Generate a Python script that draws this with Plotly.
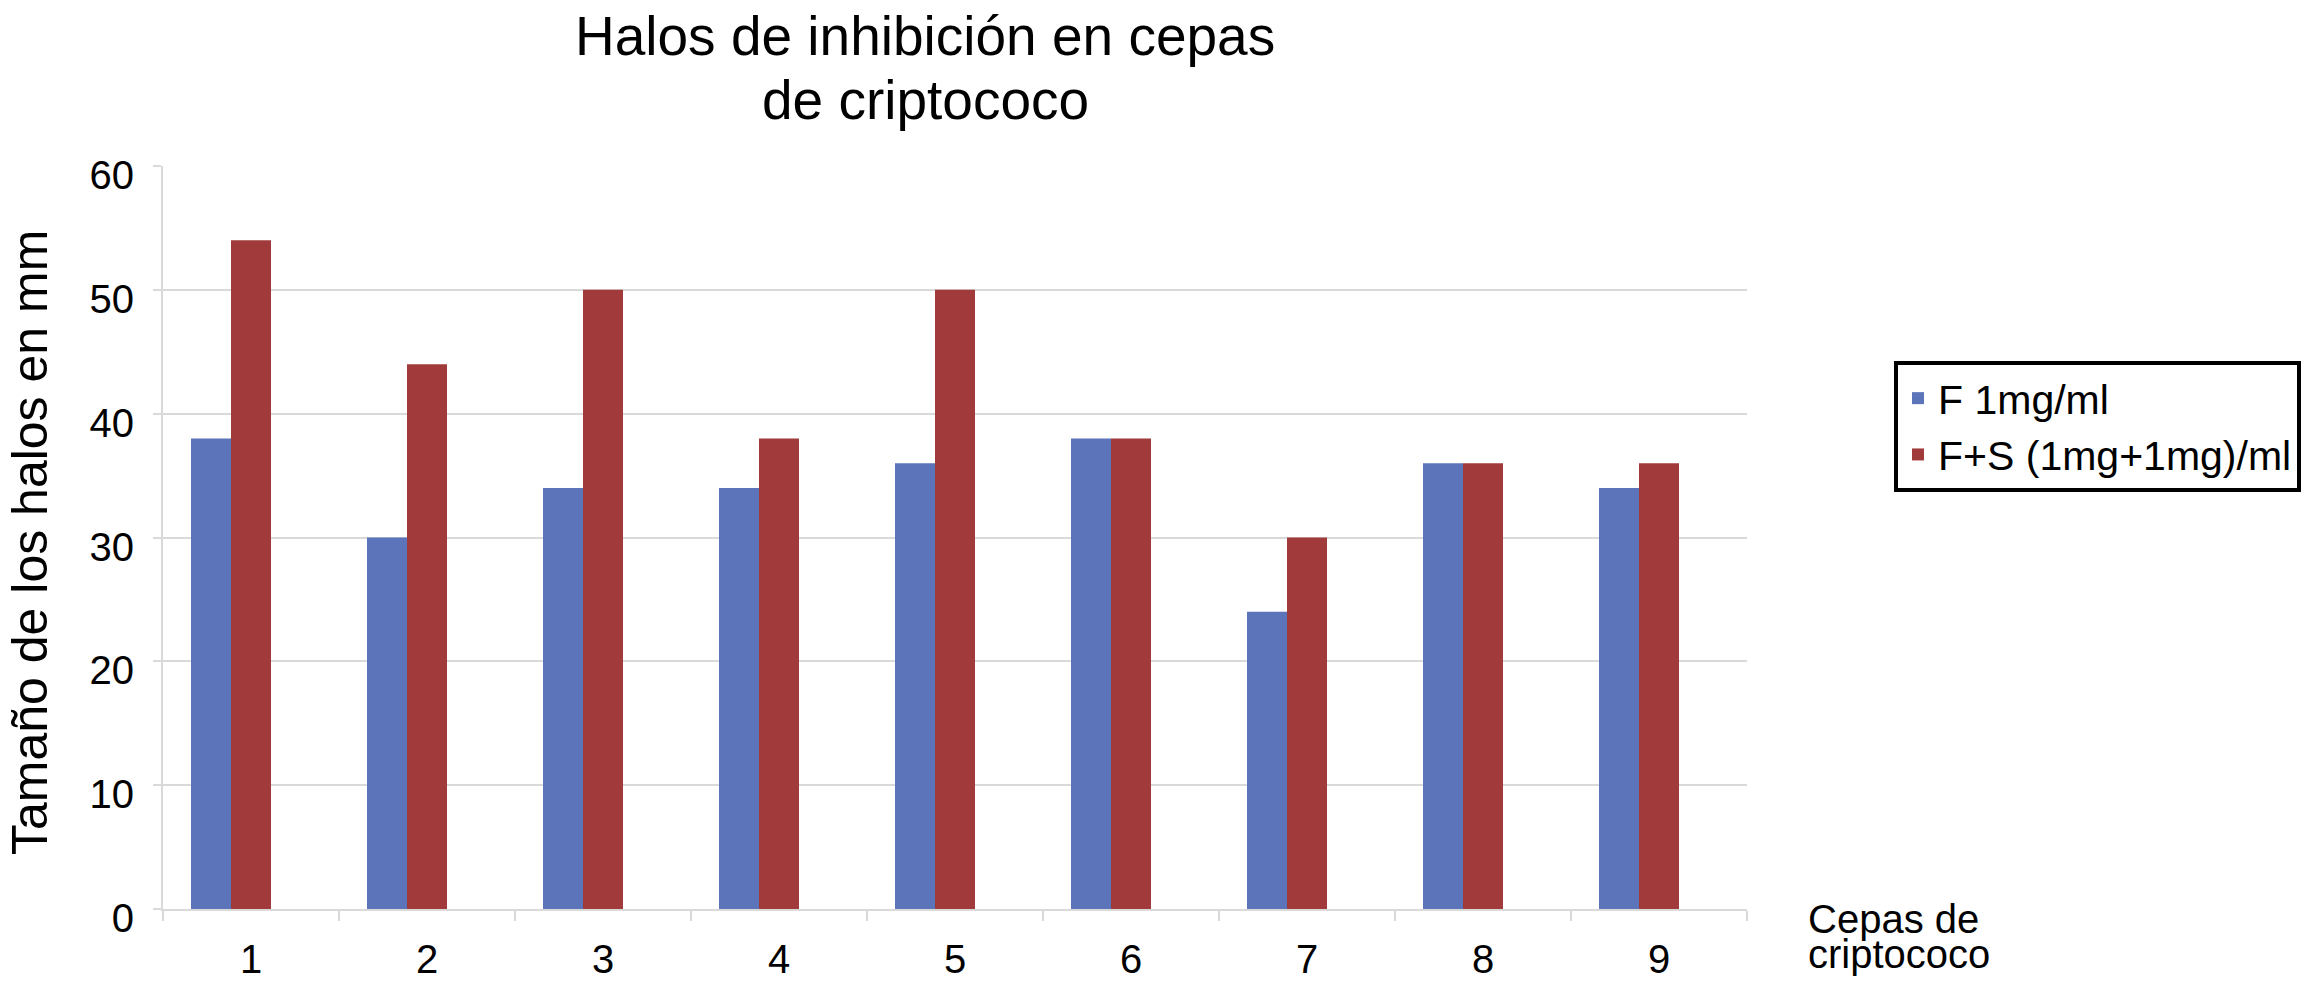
import plotly.graph_objects as go

categories = ["1", "2", "3", "4", "5", "6", "7", "8", "9"]
f_1mg = [38, 30, 34, 34, 36, 38, 24, 36, 34]
fs_1mg_1mg = [54, 44, 50, 38, 50, 38, 30, 36, 36]
series_names = ["F 1mg/ml", "F+S (1mg+1mg)/ml"]
y_ticks = [0, 10, 20, 30, 40, 50, 60]

# page has an 8px body margin, so figure coords = page coords - 8
OFF = 8
W, H = 2309 - OFF, 983 - OFF
L, R, T, B = 163 - OFF, 1747 - OFF, 166 - OFF, 909 - OFF
PW, PH = R - L, B - T


def px(xp):
    return (xp - OFF - L) / PW


def py(yp):
    return 1 - (yp - OFF - T) / PH


BLUE = "#5B74BA"
RED = "#A13B3B"
GRID = "#d9d9d9"
FONT = "Liberation Sans, Arial, sans-serif"
BW = 40 / 176  # bar width in category units

fig = go.Figure()
fig.add_trace(go.Bar(x=categories, y=f_1mg, name=series_names[0], width=BW, offset=-1.5 * BW,
                     marker=dict(color=BLUE, line=dict(width=0))))
fig.add_trace(go.Bar(x=categories, y=fs_1mg_1mg, name=series_names[1], width=BW, offset=-0.5 * BW,
                     marker=dict(color=RED, line=dict(width=0))))

fig.update_layout(
    width=W, height=H,
    margin=dict(l=L, r=W - R, t=T, b=H - B, autoexpand=False),
    paper_bgcolor="white", plot_bgcolor="white",
    font=dict(family=FONT, color="black", size=40),
    barmode="overlay",
    legend=dict(x=px(2301), xanchor="right", y=py(361), yanchor="top",
                bordercolor="black", borderwidth=4, bgcolor="white",
                font=dict(size=41, family=FONT), itemwidth=30, tracegroupgap=0,
                traceorder="normal"),
    showlegend=True,
)

fig.update_xaxes(
    type="category", showgrid=False, showline=True, linecolor=GRID, linewidth=2,
    ticks="outside", tickson="boundaries", ticklen=10, tickcolor=GRID, tickwidth=2,
    ticklabelstandoff=14, tickfont=dict(size=40), range=[-0.5, 8.5],
)
fig.update_yaxes(
    range=[0, 60], tickvals=y_ticks, showgrid=True, gridcolor=GRID, gridwidth=2,
    showline=True, linecolor=GRID, linewidth=2, zeroline=False,
    ticks="outside", ticklen=8, tickcolor=GRID, tickwidth=2,
    ticklabelstandoff=11, ticklabelshift=9, tickfont=dict(size=40),
)

fig.add_annotation(text="Halos de inhibición en cepas", xref="paper", yref="paper",
                   x=px(925), y=py(36), xanchor="center", yanchor="middle",
                   showarrow=False, font=dict(size=55, family=FONT))
fig.add_annotation(text="de criptococo", xref="paper", yref="paper",
                   x=px(925), y=py(100), xanchor="center", yanchor="middle",
                   showarrow=False, font=dict(size=55, family=FONT))
fig.add_annotation(text="Tamaño de los halos en mm", textangle=-90, xref="paper", yref="paper",
                   x=px(30), y=py(543), xanchor="center", yanchor="middle",
                   showarrow=False, font=dict(size=50, family=FONT))
fig.add_annotation(text="Cepas de", xref="paper", yref="paper",
                   x=px(1806), y=py(919), xanchor="left", yanchor="middle",
                   showarrow=False, font=dict(size=40, family=FONT))
fig.add_annotation(text="criptococo", xref="paper", yref="paper",
                   x=px(1806), y=py(954), xanchor="left", yanchor="middle",
                   showarrow=False, font=dict(size=40, family=FONT))

fig.write_html("out.html")
